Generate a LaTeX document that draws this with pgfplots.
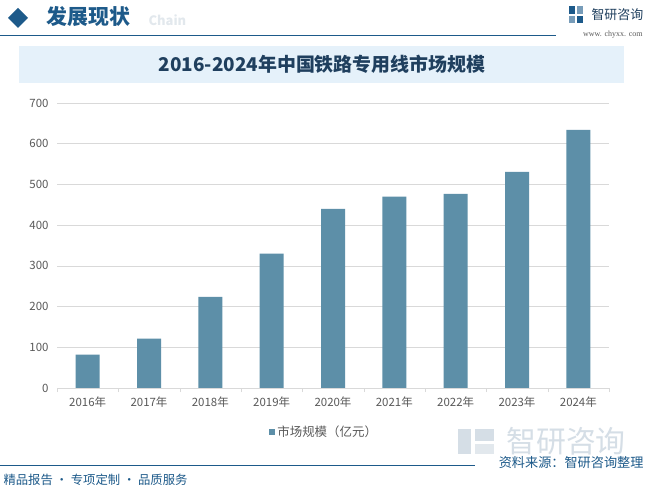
\documentclass[border=0pt]{standalone}
\usepackage{fontspec}
\setmainfont{Noto Sans CJK SC}
\newfontfamily\serifdigits{Liberation Serif}
\usepackage{pgfplots}
\pgfplotsset{compat=1.18}
\definecolor{barblue}{HTML}{5D8FA8}
\definecolor{headblue}{HTML}{1D5A8A}
\definecolor{bandblue}{HTML}{E5F1FA}
\definecolor{titleblue}{HTML}{1F3F5E}
\definecolor{gridgray}{HTML}{D9D9D9}
\definecolor{ticktext}{HTML}{595959}
\definecolor{wmgray}{HTML}{D5DEE6}

\begin{document}
\begin{tikzpicture}
% page frame in bp, origin at the bottom left
\fill[white] (0,0) rectangle (648bp,491bp);
\useasboundingbox (0,0) rectangle (648bp,491bp);

% header
\fill[headblue] (18bp,463bp) -- (28bp,473bp) -- (18bp,483bp) -- (8bp,473bp) -- cycle;
\node[anchor=west, text=wmgray!70, font=\bfseries\fontsize{13}{15}\selectfont] at (145bp,471bp) {Chain};
\node[anchor=west, text=headblue, font=\bfseries\fontsize{21}{24}\selectfont] at (43bp,474bp) {发展现状};
\draw[headblue, line width=0.9bp] (0,456bp) -- (556bp,456bp);
% logo top right
\fill[headblue] (569bp,477bp) rectangle (575bp,485bp);
\fill[headblue!60] (577bp,477bp) rectangle (583bp,485bp);
\fill[headblue!60] (569bp,468bp) rectangle (575bp,475bp);
\fill[headblue] (577bp,468bp) rectangle (583bp,475bp);
\node[anchor=west, text=titleblue, font=\fontsize{13}{15}\selectfont] at (588bp,476bp) {智研咨询};
\node[anchor=east, text=ticktext, font=\serifdigits\fontsize{8}{9}\selectfont] at (646bp,456bp) {www. chyxx. com};

% title band
\fill[bandblue] (19bp,408bp) rectangle (624bp,445bp);
\node[text=titleblue, font=\bfseries\fontsize{19}{22}\selectfont] at (322bp,427bp) {2016-2024年中国铁路专用线市场规模};

% footer
\node[text=wmgray, font=\fontsize{30}{33}\selectfont] at (566bp,50bp) {智研咨询};
\fill[wmgray] (458bp,37bp) rectangle (471bp,62bp);
\fill[wmgray] (475bp,50bp) rectangle (494bp,62bp);
\fill[wmgray!70] (475bp,37bp) rectangle (494bp,47bp);
\draw[headblue, line width=0.9bp] (0,26bp) -- (475bp,26bp);
\node[anchor=west, text=headblue, font=\fontsize{12.4}{14}\selectfont] at (0bp,11bp) {精品报告 · 专项定制 · 品质服务};
\node[anchor=east, text=headblue, font=\fontsize{13.2}{15}\selectfont] at (647bp,28bp) {资料来源：智研咨询整理};

\begin{axis}[
    at={(57bp,103bp)}, anchor=south west,
    scale only axis,
    width=552bp, height=285bp,
    ybar, bar width=24bp,
    ymin=0, ymax=700,
    ytick={0,100,...,700},
    xmin=-0.5, xmax=8.5,
    xtick=data,
    xticklabels={2016年,2017年,2018年,2019年,2020年,2021年,2022年,2023年,2024年},
    major x tick style={draw=none},
    extra x ticks={-0.5,0.5,...,8.5},
    extra x tick labels={},
    extra x tick style={major tick length=4bp, tick align=outside, xmajorgrids=false, major x tick style={draw=gridgray}},
    ymajorgrids,
    grid style={gridgray, line width=0.6bp},
    axis x line*=bottom,
    axis y line*=left,
    y axis line style={draw=none},
    x axis line style={gridgray, line width=0.8bp, -},
    y tick style={draw=none},
    tick label style={text=ticktext},
    xticklabel style={font=\fontsize{11.5}{13}\selectfont, yshift=-1bp},
    yticklabel style={font=\fontsize{11.5}{13}\selectfont, xshift=-5bp},
    /pgf/number format/assume math mode=true,
    legend style={draw=none, fill=none, at={(0.484,-0.154)}, anchor=center,
        font=\fontsize{12.5}{14}\selectfont, text=ticktext},
    legend image code/.code={\fill[barblue] (0bp,-3bp) rectangle (6bp,3bp);},
    ]
\addplot[fill=barblue, draw=none] coordinates {
    (0,82) (1,121) (2,224) (3,330) (4,440) (5,470) (6,477) (7,531) (8,634)
};
\legend{市场规模（亿元）}
\end{axis}
\end{tikzpicture}
\end{document}
